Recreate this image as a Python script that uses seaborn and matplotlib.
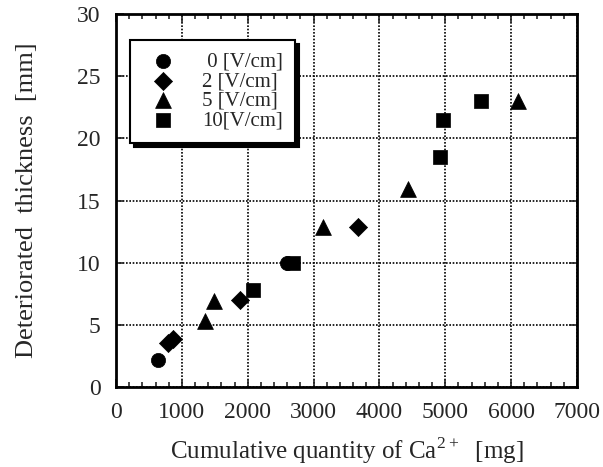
import numpy as np
import pandas as pd
import matplotlib
matplotlib.use("Agg")
import matplotlib.pyplot as plt
import seaborn as sns
from matplotlib.ticker import MultipleLocator

sns.set_style("ticks")
plt.rcParams['font.family'] = ['Liberation Serif', 'DejaVu Serif']
plt.rcParams['mathtext.fontset'] = 'custom'
plt.rcParams['mathtext.rm'] = 'Liberation Serif'

series_labels = [" 0 [V/cm]", "2 [V/cm]", "5 [V/cm]", "10[V/cm]"]
x_0 = [640, 2600]
y_0 = [2.2, 10.0]
x_2 = [790, 870, 1880, 3680]
y_2 = [3.5, 3.9, 7.0, 12.9]
x_5 = [1350, 1490, 3150, 4440, 6110]
y_5 = [5.3, 6.9, 12.9, 15.9, 23.0]
x_10 = [2080, 2690, 4920, 4970, 5540]
y_10 = [7.8, 10.0, 18.5, 21.5, 23.0]

rows = []
for lab, xs, ys in zip(series_labels, [x_0, x_2, x_5, x_10], [y_0, y_2, y_5, y_10]):
    for a, b in zip(xs, ys):
        rows.append({"x": a, "y": b, "series": lab})
df = pd.DataFrame(rows)

markers = {series_labels[0]: "o", series_labels[1]: "D", series_labels[2]: "^", series_labels[3]: "s"}
sizes_map = {series_labels[0]: 105, series_labels[1]: 85, series_labels[2]: 130, series_labels[3]: 105}

fig = plt.figure(figsize=(6.03, 4.67), dpi=100)
ax = fig.add_axes([0.1924, 0.1713, 0.7645, 0.7987])

for lab in series_labels:
    sub = df[df.series == lab]
    sns.scatterplot(data=sub, x="x", y="y", marker=markers[lab], color="black",
                    s=sizes_map[lab], edgecolor="black", linewidth=0.5, ax=ax,
                    label=lab, zorder=5)

ax.set_xlim(0, 7000)
ax.set_ylim(0, 30)
ax.xaxis.set_major_locator(MultipleLocator(1000))
ax.xaxis.set_minor_locator(MultipleLocator(200))
ax.yaxis.set_major_locator(MultipleLocator(5))
ax.tick_params(which="both", direction="in", top=True, right=True, labelsize=17, width=1.2)
ax.tick_params(which="major", length=6)
ax.tick_params(which="minor", length=3.5)
ax.tick_params(axis="x", which="major", pad=11)
ax.tick_params(axis="y", which="major", pad=11)
for sp in ax.spines.values():
    sp.set_linewidth(2)
    sp.set_color("black")
ax.grid(True, which="major", linestyle=(0, (1, 1)), color="black", linewidth=1.2)
ax.set_axisbelow(True)

ax.set_xlabel(r"Cumulative quantity of Ca$^{\mathregular{2+}}$  [mg]", fontsize=18, labelpad=9)
ax.set_ylabel("Deteriorated  thickness  [mm]", fontsize=19, labelpad=28)

leg = ax.legend(loc="upper left", bbox_to_anchor=(0.03, 0.93), fontsize=15,
                frameon=True, fancybox=False, edgecolor="black",
                shadow={"color": "black", "alpha": 1.0, "ox": 3, "oy": -3},
                handletextpad=0.87, labelspacing=0.0, borderpad=0.58, markerfirst=True,
                framealpha=1.0, handlelength=2.0, borderaxespad=0.0)
leg.get_frame().set_linewidth(1.5)

fig.savefig("out.png", dpi=100)
